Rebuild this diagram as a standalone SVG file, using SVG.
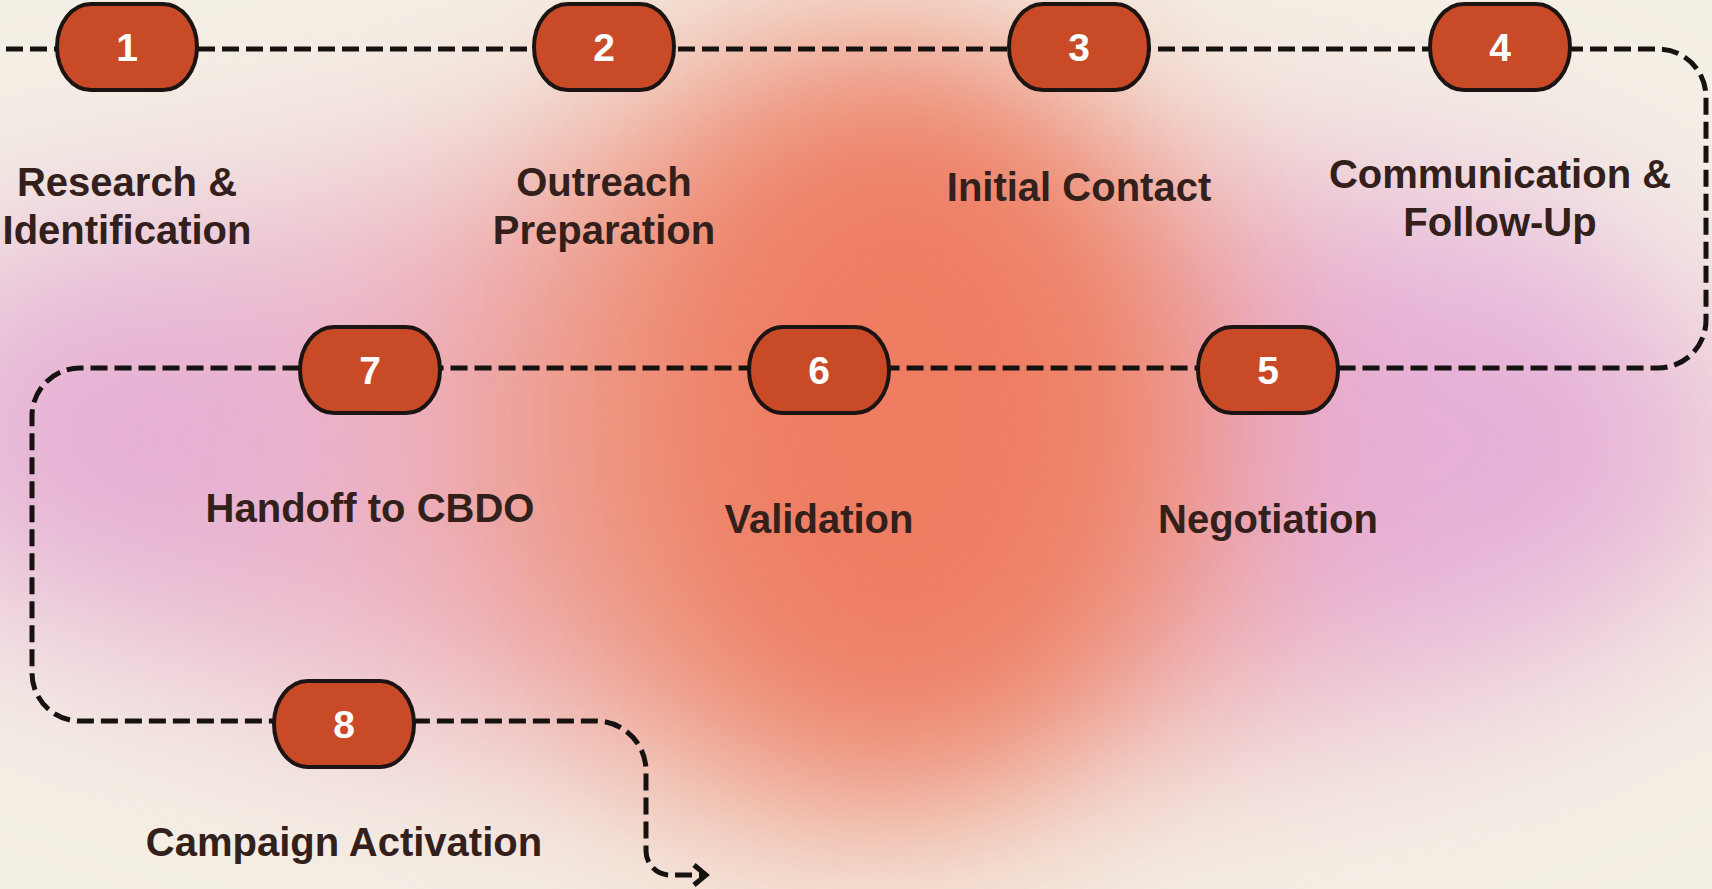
<svg xmlns="http://www.w3.org/2000/svg" width="1712" height="889" viewBox="0 0 1712 889">
  <style>
    .node rect { fill: #C94A27; stroke: #1B1412; stroke-width: 4; }
    .num { font-family: "Liberation Sans", Arial, sans-serif; font-weight: bold; font-size: 39px; fill: #FFFFFF; text-anchor: middle; }
    .label { font-family: "Liberation Sans", Arial, sans-serif; font-weight: bold; font-size: 40px; fill: #33201B; text-anchor: middle; }
    .conn { fill: none; stroke: #161210; stroke-width: 5; stroke-dasharray: 17 7; }
    .arrow { fill: none; stroke: #161210; stroke-width: 5; stroke-linecap: butt; stroke-linejoin: miter; }
  </style>
  <defs>
    <filter id="blurA" x="-60%" y="-60%" width="220%" height="220%">
      <feGaussianBlur stdDeviation="95"/>
    </filter>
    <filter id="blurB" x="-60%" y="-60%" width="220%" height="220%">
      <feGaussianBlur stdDeviation="80"/>
    </filter>
  </defs>

  <g id="background">
    <rect x="0" y="0" width="1712" height="889" fill="#F4EFE5"/>
    <g filter="url(#blurA)">
      <ellipse cx="860" cy="450" rx="900" ry="320" fill="#EDB6C6"/>
      <ellipse cx="110" cy="430" rx="230" ry="200" fill="#E6B0D4"/>
      <ellipse cx="1440" cy="430" rx="260" ry="230" fill="#E6B0D9"/>
      <ellipse cx="860" cy="430" rx="400" ry="400" fill="#EE9A84"/>
    </g>
    <g filter="url(#blurB)">
      <ellipse cx="900" cy="420" rx="240" ry="320" fill="#EE7D62"/>
    </g>
  </g>

  <g id="connectors">
    <path class="conn" d="M 6 49 H 1658 A 48 48 0 0 1 1706 97 V 320 A 48 48 0 0 1 1658 368 H 80 A 48 48 0 0 0 32 416 V 673 A 48 48 0 0 0 80 721 H 596 A 50 50 0 0 1 646 771 V 851 A 24 24 0 0 0 670 875 H 703"/>
    <polyline class="arrow" points="694,865 706,875 694,885"/>
  </g>

  <g id="node1" class="node">
    <rect x="57" y="4" width="140" height="86" rx="34" ry="43"/>
    <text class="num" x="127" y="61">1</text>
    <text class="label" x="127" y="196">Research &amp;</text>
    <text class="label" x="127" y="244">Identification</text>
  </g>
  <g id="node2" class="node">
    <rect x="534" y="4" width="140" height="86" rx="34" ry="43"/>
    <text class="num" x="604" y="61">2</text>
    <text class="label" x="604" y="196">Outreach</text>
    <text class="label" x="604" y="244">Preparation</text>
  </g>
  <g id="node3" class="node">
    <rect x="1009" y="4" width="140" height="86" rx="34" ry="43"/>
    <text class="num" x="1079" y="61">3</text>
    <text class="label" x="1079" y="201">Initial Contact</text>
  </g>
  <g id="node4" class="node">
    <rect x="1430" y="4" width="140" height="86" rx="34" ry="43"/>
    <text class="num" x="1500" y="61">4</text>
    <text class="label" x="1500" y="188">Communication &amp;</text>
    <text class="label" x="1500" y="236">Follow-Up</text>
  </g>
  <g id="node5" class="node">
    <rect x="1198" y="327" width="140" height="86" rx="34" ry="43"/>
    <text class="num" x="1268" y="384">5</text>
    <text class="label" x="1268" y="533">Negotiation</text>
  </g>
  <g id="node6" class="node">
    <rect x="749" y="327" width="140" height="86" rx="34" ry="43"/>
    <text class="num" x="819" y="384">6</text>
    <text class="label" x="819" y="533">Validation</text>
  </g>
  <g id="node7" class="node">
    <rect x="300" y="327" width="140" height="86" rx="34" ry="43"/>
    <text class="num" x="370" y="384">7</text>
    <text class="label" x="370" y="522">Handoff to CBDO</text>
  </g>
  <g id="node8" class="node">
    <rect x="274" y="681" width="140" height="86" rx="34" ry="43"/>
    <text class="num" x="344" y="738">8</text>
    <text class="label" x="344" y="856">Campaign Activation</text>
  </g>
</svg>
